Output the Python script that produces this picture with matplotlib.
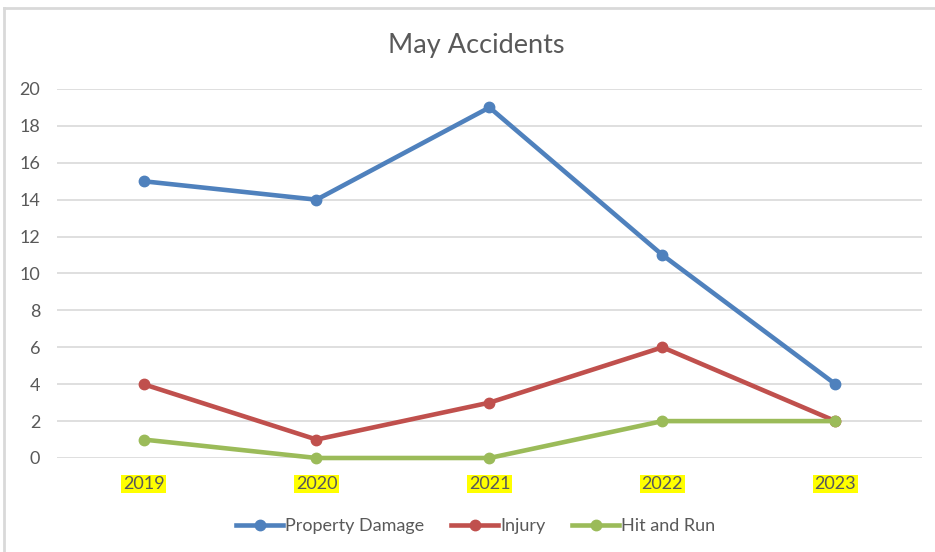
import matplotlib.pyplot as plt
from matplotlib.lines import Line2D

years = ['2019', '2020', '2021', '2022', '2023']
property_damage = [15, 14, 19, 11, 4]
injury = [4, 1, 3, 6, 2]
hit_and_run = [1, 0, 0, 2, 2]

plt.rcParams['font.family'] = ['Lato', 'DejaVu Sans']
gris = '#595959'

fig = plt.figure(figsize=(9.35, 5.52), dpi=100)
ax = fig.add_axes([0.061, 0.1703, 0.925, 0.6685])

x = range(len(years))
ax.plot(x, property_damage, color='#4F81BD', lw=3.3, marker='o', ms=7.5, label='Property Damage', clip_on=False)
ax.plot(x, injury, color='#C0504D', lw=3.3, marker='o', ms=7.5, label='Injury', clip_on=False)
ax.plot(x, hit_and_run, color='#9BBB59', lw=3.3, marker='o', ms=7.5, label='Hit and Run', clip_on=False)

ax.set_xlim(-0.5, len(years) - 0.5)
ax.set_ylim(0, 20)
ax.set_yticks(range(0, 21, 2))
ax.set_xticks(list(x))
ax.set_xticklabels(years)
ax.grid(axis='y', color='#D9D9D9', lw=1.2)
ax.set_axisbelow(True)
for s in ax.spines.values():
    s.set_visible(False)
ax.tick_params(length=0, labelsize=13, colors=gris)
ax.tick_params(axis='y', pad=12)
for t in ax.get_xticklabels():
    t.set_bbox(dict(facecolor='#FFFF00', edgecolor='none', pad=1))
ax.tick_params(axis='x', pad=13)

fig.text(0.509, 0.917, 'May Accidents', ha='center', va='center', fontsize=19.5, color=gris)

leg = ax.legend(loc='center', bbox_to_anchor=(0.509, 0.047), bbox_transform=fig.transFigure,
                ncol=3, frameon=False, fontsize=13, handlelength=2.6, columnspacing=1.5,
                handletextpad=0.1)
for t in leg.get_texts():
    t.set_color(gris)

# marco del grafico
fig.add_artist(Line2D([0.0045, 0.0045], [0, 0.986], color='#D9D9D9', lw=2, transform=fig.transFigure))
fig.add_artist(Line2D([0.0045, 1.0], [0.986, 0.986], color='#D9D9D9', lw=2, transform=fig.transFigure))

fig.savefig('out.png', dpi=100)
